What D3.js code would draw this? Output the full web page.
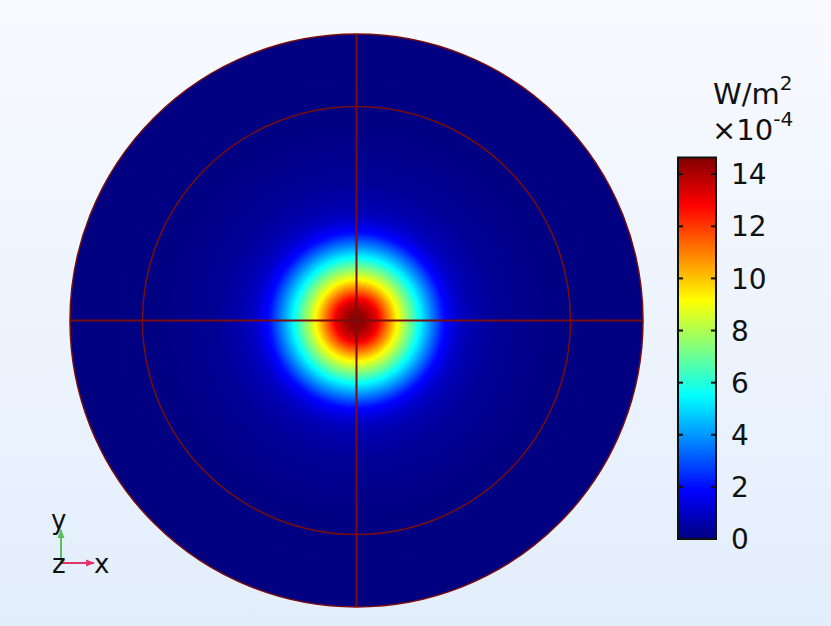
<!DOCTYPE html>
<html>
<head>
<meta charset="utf-8">
<script src="https://cdn.jsdelivr.net/npm/d3@7"></script>
<style>
  html, body { margin: 0; padding: 0; }
  body { width: 831px; height: 626px; overflow: hidden; }
  text { font-family: "DejaVu Sans", sans-serif; fill: #111; }
</style>
</head>
<body>
<svg id="chart" width="831" height="626"></svg>
<script>
// Radial intensity profile (distance as fraction of outer radius).
const radiusFrac = [0, 0.035, 0.07, 0.105, 0.143, 0.182, 0.22, 0.262, 0.304, 0.349, 0.391, 0.489, 0.698, 1.0];
const intensity = [14.6, 14.2, 13.2, 11.3, 9.15, 7.3, 5.5, 3.7, 2.0, 1.1, 0.7, 0.3, 0.04, 0];
const colorMax = 14.64;
const colorTicks = [0, 2, 4, 6, 8, 10, 12, 14];
const innerRadiusFrac = 0.747;

const jetPos = [0, 0.125, 0.375, 0.625, 0.875, 1];
const jetColors = ['#000080', '#0000ff', '#00ffff', '#ffff00', '#ff0000', '#800000'];

const svg = d3.select('#chart');
const defs = svg.append('defs');

const bg = defs.append('linearGradient')
    .attr('id', 'bg').attr('x1', 0).attr('y1', 0).attr('x2', 0).attr('y2', 1);
bg.append('stop').attr('offset', 0).attr('stop-color', '#f8faff');
bg.append('stop').attr('offset', 1).attr('stop-color', '#e3eefc');
svg.append('rect').attr('width', 831).attr('height', 626).attr('fill', 'url(#bg)');

// plot geometry
const cx = 356.5, cy = 320.5, R = 286.5;
const x = d3.scaleLinear().domain([-1, 1]).range([cx - R, cx + R]);
const y = d3.scaleLinear().domain([-1, 1]).range([cy + R, cy - R]);

const profile = d3.scaleLinear().domain(radiusFrac).range(intensity).clamp(true);
const jet = d3.scaleLinear()
    .domain(jetPos.map(p => p * colorMax))
    .range(jetColors)
    .clamp(true);

// heat map drawn on a canvas, dropped into the svg as an image
const size = Math.ceil(2 * R);
const canvas = document.createElement('canvas');
canvas.width = size; canvas.height = size;
const ctx = canvas.getContext('2d');
const img = ctx.createImageData(size, size);
for (let j = 0; j < size; j++) {
    for (let i = 0; i < size; i++) {
        const px = x.invert(cx - R + i + 0.5);
        const py = y.invert(cy - R + j + 0.5);
        const c = d3.rgb(jet(profile(Math.hypot(px, py))));
        const k = (j * size + i) * 4;
        img.data[k] = c.r; img.data[k + 1] = c.g; img.data[k + 2] = c.b; img.data[k + 3] = 255;
    }
}
ctx.putImageData(img, 0, 0);

defs.append('clipPath').attr('id', 'disk')
    .append('circle').attr('cx', x(0)).attr('cy', y(0)).attr('r', x(1) - x(0));

svg.append('image')
    .attr('x', cx - R).attr('y', cy - R)
    .attr('width', size).attr('height', size)
    .attr('clip-path', 'url(#disk)')
    .attr('href', canvas.toDataURL());

const edge = '#7a0d0d';
const lines = svg.append('g').attr('fill', 'none').attr('stroke', edge);
lines.append('circle').attr('cx', x(0)).attr('cy', y(0)).attr('r', x(1) - x(0)).attr('stroke-width', 1.5);
lines.append('circle').attr('cx', x(0)).attr('cy', y(0)).attr('r', x(innerRadiusFrac) - x(0)).attr('stroke-width', 1.5);
lines.append('line').attr('x1', x(-1)).attr('x2', x(1)).attr('y1', y(0)).attr('y2', y(0)).attr('stroke-width', 2);
lines.append('line').attr('x1', x(0)).attr('x2', x(0)).attr('y1', y(-1)).attr('y2', y(1)).attr('stroke-width', 2);

// colour bar
const barX = 678, barW = 38, barTop = 157.5, barBottom = 539;
const cScale = d3.scaleLinear().domain([0, colorMax]).range([barBottom, barTop]);

const grad = defs.append('linearGradient')
    .attr('id', 'jet').attr('x1', 0).attr('y1', 1).attr('x2', 0).attr('y2', 0);
grad.selectAll('stop').data(jetPos).enter().append('stop')
    .attr('offset', d => d)
    .attr('stop-color', (d, i) => jetColors[i]);

svg.append('rect')
    .attr('x', barX).attr('y', barTop)
    .attr('width', barW).attr('height', barBottom - barTop)
    .attr('fill', 'url(#jet)')
    .attr('stroke', '#111').attr('stroke-width', 2);

const tick = svg.append('g').selectAll('g').data(colorTicks).enter().append('g')
    .attr('transform', d => `translate(0,${cScale(d)})`);
tick.append('line').attr('x1', barX).attr('x2', barX + 5).attr('stroke', '#111').attr('stroke-width', 2);
tick.append('line').attr('x1', barX + barW - 5).attr('x2', barX + barW).attr('stroke', '#111').attr('stroke-width', 2);
tick.append('text')
    .attr('x', 731).attr('dy', '0.36em')
    .style('font-size', '28px')
    .text(d => d);

const unit = svg.append('text').attr('x', 713).attr('y', 104).style('font-size', '29px');
unit.append('tspan').text('W/m');
unit.append('tspan').attr('dy', -14).style('font-size', '20px').text('2');
const scaleLbl = svg.append('text').attr('x', 712).attr('y', 140).style('font-size', '29px');
scaleLbl.append('tspan').text('×10');
scaleLbl.append('tspan').attr('dy', -14).style('font-size', '20px').text('-4');

// axis triad
const triad = svg.append('g');
defs.append('marker').attr('id', 'ah-x').attr('viewBox', '0 0 10 10')
    .attr('refX', 9).attr('refY', 5).attr('markerWidth', 4.5).attr('markerHeight', 4.5).attr('orient', 'auto')
    .append('path').attr('d', 'M0,1L10,5L0,9Z').attr('fill', '#e0336a');
defs.append('marker').attr('id', 'ah-y').attr('viewBox', '0 0 10 10')
    .attr('refX', 9).attr('refY', 5).attr('markerWidth', 4.5).attr('markerHeight', 4.5).attr('orient', 'auto')
    .append('path').attr('d', 'M0,1L10,5L0,9Z').attr('fill', '#5cbf5c');
triad.append('line').attr('x1', 61).attr('y1', 563).attr('x2', 61).attr('y2', 530)
    .attr('stroke', '#5cbf5c').attr('stroke-width', 2).attr('marker-end', 'url(#ah-y)');
triad.append('line').attr('x1', 61).attr('y1', 563).attr('x2', 94).attr('y2', 563)
    .attr('stroke', '#e0336a').attr('stroke-width', 2).attr('marker-end', 'url(#ah-x)');
triad.append('text').attr('x', 51).attr('y', 529).style('font-size', '26px').text('y');
triad.append('text').attr('x', 52).attr('y', 573).style('font-size', '26px').text('z');
triad.append('text').attr('x', 94).attr('y', 573).style('font-size', '26px').text('x');
</script>
</body>
</html>
